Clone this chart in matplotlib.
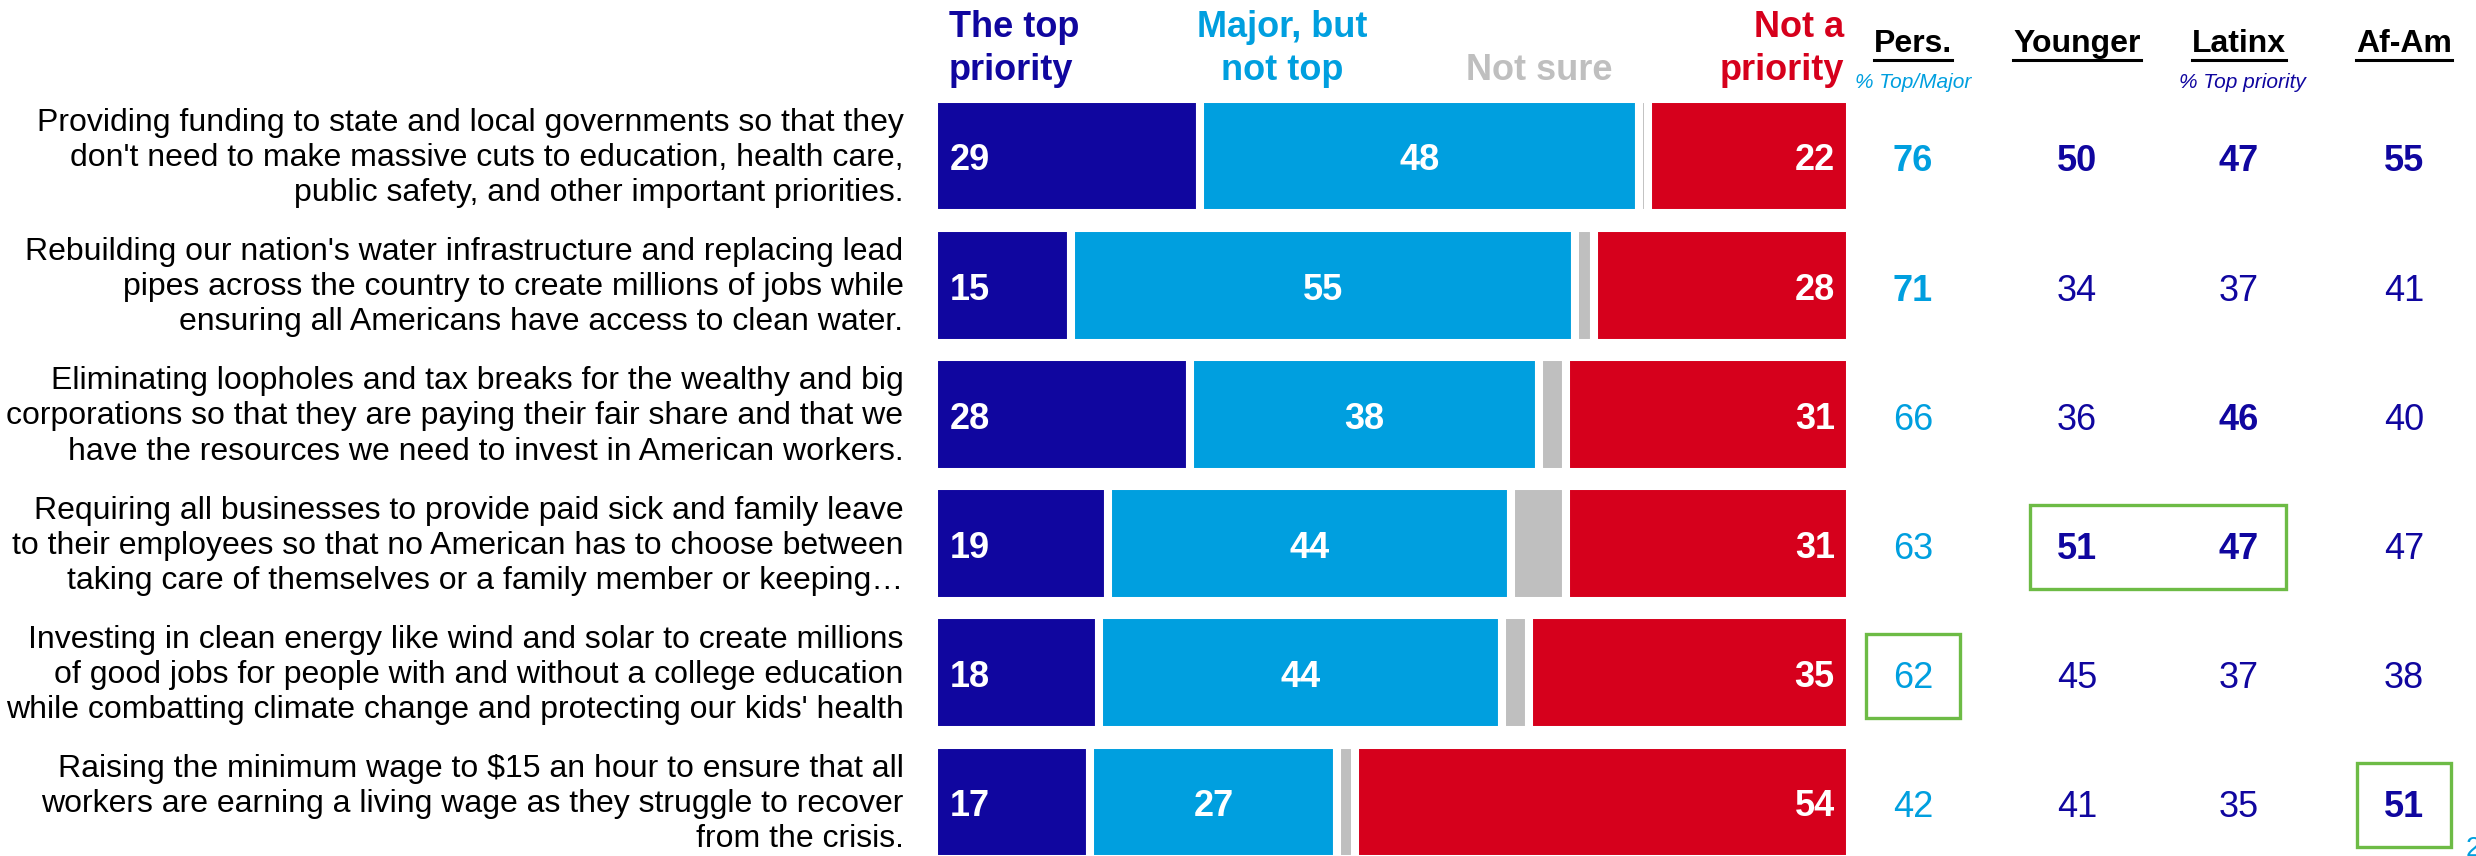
import numpy as np
import matplotlib
matplotlib.use("Agg")
import matplotlib.pyplot as plt
import matplotlib.transforms as mtransforms
from matplotlib.patches import Rectangle
from matplotlib.lines import Line2D

plt.rcParams['font.family'] = ['Liberation Sans', 'DejaVu Sans']

# --- data -------------------------------------------------------------
labels = [
    "Providing funding to state and local governments so that they\n"
    "don't need to make massive cuts to education, health care,\n"
    "public safety, and other important priorities.",
    "Rebuilding our nation's water infrastructure and replacing lead\n"
    "pipes across the country to create millions of jobs while\n"
    "ensuring all Americans have access to clean water.",
    "Eliminating loopholes and tax breaks for the wealthy and big\n"
    "corporations so that they are paying their fair share and that we\n"
    "have the resources we need to invest in American workers.",
    "Requiring all businesses to provide paid sick and family leave\n"
    "to their employees so that no American has to choose between\n"
    "taking care of themselves or a family member or keeping\u2026",
    "Investing in clean energy like wind and solar to create millions\n"
    "of good jobs for people with and without a college education\n"
    "while combatting climate change and protecting our kids' health",
    "Raising the minimum wage to $15 an hour to ensure that all\n"
    "workers are earning a living wage as they struggle to recover\n"
    "from the crisis.",
]
top_priority = [29, 15, 28, 19, 18, 17]
major_not_top = [48, 55, 38, 44, 44, 27]
not_sure = [1, 2, 3, 6, 3, 2]
not_priority = [22, 28, 31, 31, 35, 54]

col_names = ["Pers.", "Younger", "Latinx", "Af-Am"]
pers = [76, 71, 66, 63, 62, 42]
younger = [50, 34, 36, 51, 45, 41]
latinx = [47, 37, 46, 47, 37, 35]
afam = [55, 41, 40, 47, 38, 51]
pers_bold = [True, True, False, False, False, False]
younger_bold = [True, False, False, True, False, False]
latinx_bold = [True, False, True, True, False, False]
afam_bold = [True, False, False, False, False, True]
# highlighted cells: (row, first column, last column)
boxes = [(3, 1, 2), (4, 0, 0), (5, 3, 3)]

DARK = '#10069F'
LIGHT = '#009FDF'
GRAY = '#BFBFBF'
RED = '#D6001C'
GREEN = '#6DBB45'

W, H = 2476, 856
fig = plt.figure(figsize=(W / 100, H / 100), dpi=100)

# bar axes, placed in pixel terms
row_px = 129.2
top_px = 91.4
ax = fig.add_axes([934 / W, 1 - (top_px + 6 * row_px) / H, 916 / W, 6 * row_px / H])
ax.set_xlim(0, 100)
ax.set_ylim(5.5, -0.5)
ax.axis('off')

y = np.arange(len(labels))
segs = [top_priority, major_not_top, not_sure, not_priority]
cols = [DARK, LIGHT, GRAY, RED]
left = np.zeros(len(labels))
for vals, c in zip(segs, cols):
    ax.barh(y, vals, left=left, height=0.89, color=c, edgecolor='white', linewidth=5.8)
    left += np.array(vals)

num_dy = -3.5  # numbers sit a little below the bar centre
for i in range(len(labels)):
    ax.annotate(str(top_priority[i]), xy=(0, i), xytext=(11, num_dy), textcoords='offset points',
                ha='left', va='center', color='white', fontsize=26, fontweight='bold')
    ax.annotate(str(major_not_top[i]), xy=(top_priority[i] + major_not_top[i] / 2, i),
                xytext=(0, num_dy), textcoords='offset points',
                ha='center', va='center', color='white', fontsize=26, fontweight='bold')
    ax.annotate(str(not_priority[i]), xy=(100, i), xytext=(-11, num_dy), textcoords='offset points',
                ha='right', va='center', color='white', fontsize=26, fontweight='bold')
    ax.annotate(labels[i], xy=(0, i), xytext=(-22, -1.5), textcoords='offset points',
                ha='right', va='center', multialignment='right', fontsize=23,
                linespacing=1.22, color='black')

# bar headers
def fy(px):
    return 1 - px / H

fig.text(949 / W, fy(49), "The top\npriority", ha='left', va='center', color=DARK,
         fontsize=26, fontweight='bold', linespacing=1.3)
fig.text(1282 / W, fy(49), "Major, but\nnot top", ha='center', va='center', color=LIGHT,
         fontsize=26, fontweight='bold', linespacing=1.3)
fig.text(1539 / W, fy(70), "Not sure", ha='center', va='center', color=GRAY,
         fontsize=26, fontweight='bold')
fig.text(1844 / W, fy(49), "Not a\npriority", ha='right', va='center', color=RED,
         fontsize=26, fontweight='bold', linespacing=1.3, multialignment='right')

# right-hand columns
col_x = [1913 / W, 2077 / W, 2239 / W, 2404 / W]
col_vals = [pers, younger, latinx, afam]
col_bold = [pers_bold, younger_bold, latinx_bold, afam_bold]
col_colors = [LIGHT, DARK, DARK, DARK]
trans = mtransforms.blended_transform_factory(fig.transFigure, ax.transData)

heads = []
for x, name in zip(col_x, col_names):
    heads.append(fig.text(x, fy(44), name, ha='center', va='center', color='black',
                          fontsize=23, fontweight='bold'))
fig.text(col_x[0], fy(83), "% Top/Major", ha='center', va='center', color=LIGHT,
         fontsize=15, style='italic')
fig.text(2242 / W, fy(83), "% Top priority", ha='center', va='center', color=DARK,
         fontsize=15, style='italic')

for x, vals, bolds, c in zip(col_x, col_vals, col_bold, col_colors):
    for i, (v, b) in enumerate(zip(vals, bolds)):
        fig.text(x, i + 0.045, str(v), transform=trans, ha='center', va='center', color=c,
                 fontsize=26, fontweight='bold' if b else 'normal')

pad_x = 47 / W
for r, c0, c1 in boxes:
    x0 = col_x[c0] - pad_x
    x1 = col_x[c1] + pad_x
    fig.add_artist(Rectangle((x0, r - 0.30), x1 - x0, 0.65, transform=trans,
                             fill=False, edgecolor=GREEN, linewidth=2.4, clip_on=False))

# underline the column headers
fig.canvas.draw()
renderer = fig.canvas.get_renderer()
inv = fig.transFigure.inverted()
for t in heads:
    bb = t.get_window_extent(renderer)
    (x0, y0), (x1, _) = inv.transform([[bb.x0, bb.y0 - 1], [bb.x1, bb.y1]])
    fig.add_artist(Line2D([x0, x1], [y0, y0], color='black', linewidth=2.2))

# page number, cut by the slide edge
fig.text(2466 / W, fy(836), "2", ha='left', va='top', color=LIGHT, fontsize=20)

fig.savefig("out.png", dpi=100)
